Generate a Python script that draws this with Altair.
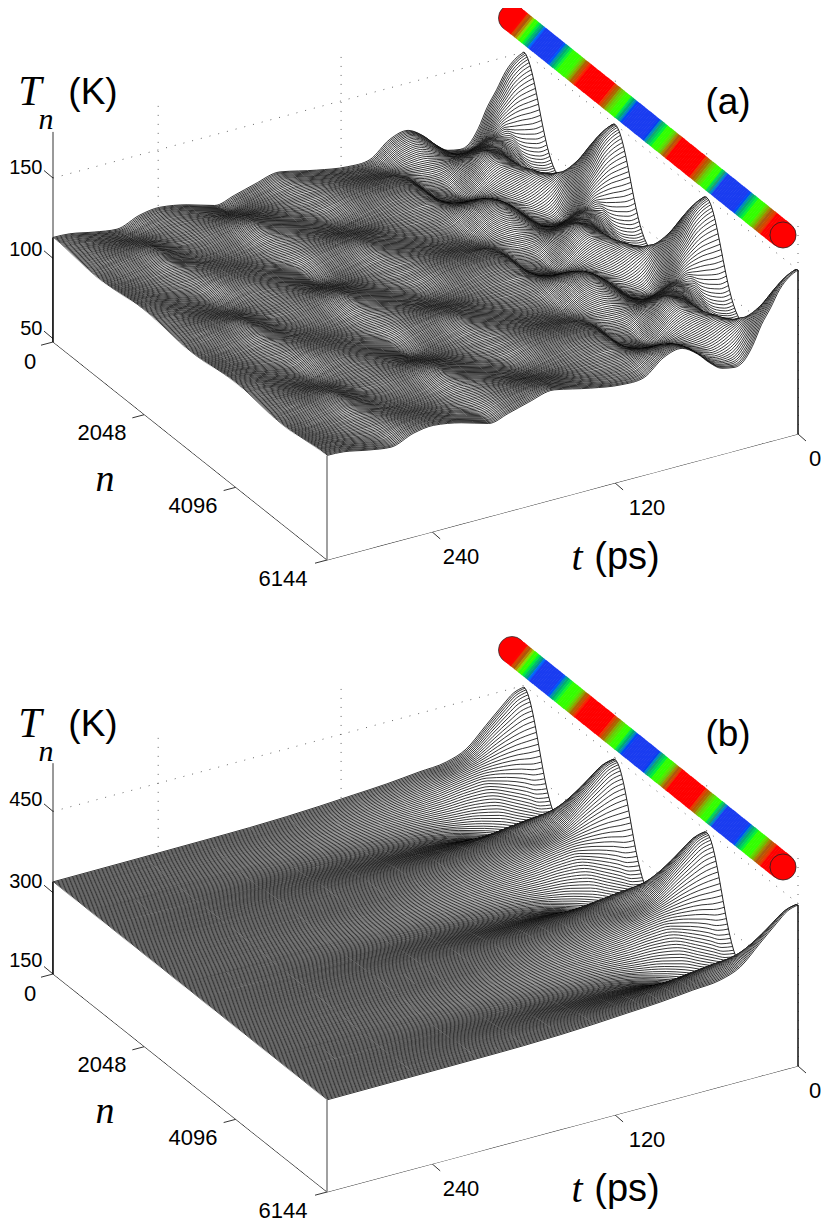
import altair as alt
import numpy as np
import pandas as pd

# time columns (ps) and temperature rows (K).
# the surface repeats every 2048 sites and mirrors about the mid point, so one half
# period (45 rows, n = 0 ... 1024) is written down and repeated over the 6144 sites
T_MAX = 309
TIMES_A = [0, 6, 12, 18, 24, 30, 36, 42, 50, 58, 66, 76, 88, 101, 116, 136, 160, 177, 190, 203, 221, 239, 252, 267, 282, 298, 309]
TEMP_A = [
    [150, 147, 141, 131, 122, 110, 102, 100, 101.5, 107, 114.5, 120.5, 118, 108.7, 108, 111, 116, 112.5, 109, 106, 111, 114, 112.5, 107.5, 109.5, 112.5, 113],
    [149.8, 146.8, 140.8, 131, 122, 110, 102.1, 100.1, 101.6, 107, 114.5, 120.5, 118, 108.7, 108, 111, 116, 112.5, 109, 106, 111, 114, 112.5, 107.5, 109.5, 112.5, 113],
    [149.4, 146.5, 140.6, 130.9, 122, 110.1, 102.2, 100.2, 101.6, 107, 114.4, 120.4, 117.9, 108.7, 108, 111, 116, 112.5, 109, 106.1, 111, 114, 112.5, 107.5, 109.5, 112.5, 113],
    [148.5, 145.7, 140, 130.6, 122, 110.3, 102.6, 100.5, 101.8, 107, 114.3, 120.3, 117.8, 108.8, 108.1, 111, 115.9, 112.5, 109, 106.2, 111, 114, 112.5, 107.6, 109.6, 112.5, 113],
    [147.5, 144.8, 139.4, 130.3, 121.9, 110.5, 102.9, 100.8, 101.9, 107, 114.2, 120.1, 117.7, 108.8, 108.1, 111, 115.8, 112.5, 109.1, 106.2, 111, 113.9, 112.5, 107.7, 109.6, 112.5, 112.9],
    [146, 143.5, 138.4, 129.9, 121.8, 110.9, 103.5, 101.3, 102.2, 107, 114, 119.9, 117.6, 108.9, 108.2, 111, 115.7, 112.5, 109.2, 106.4, 111, 113.9, 112.5, 107.8, 109.7, 112.5, 112.9],
    [144.5, 142.1, 137.4, 129.4, 121.7, 111.2, 104, 101.7, 102.4, 107, 113.8, 119.6, 117.4, 109, 108.3, 111, 115.6, 112.4, 109.2, 106.5, 111, 113.8, 112.4, 107.9, 109.7, 112.4, 112.9],
    [142.5, 140.4, 136.2, 128.9, 121.6, 111.6, 104.7, 102.3, 102.8, 107.1, 113.6, 119.3, 117.2, 109.1, 108.5, 111.1, 115.5, 112.4, 109.3, 106.7, 111.1, 113.7, 112.4, 108, 109.8, 112.4, 112.9],
    [140.5, 138.6, 135, 128.4, 121.4, 111.9, 105.4, 102.9, 103.1, 107.1, 113.4, 118.9, 117, 109.1, 108.6, 111.1, 115.3, 112.3, 109.4, 106.9, 111.1, 113.6, 112.3, 108.1, 109.8, 112.3, 112.8],
    [138.2, 136.5, 133.4, 127.6, 121.2, 112.4, 106.3, 103.6, 103.5, 107.2, 113.1, 118.5, 116.7, 109.3, 108.8, 111.1, 115.1, 112.3, 109.5, 107.1, 111.1, 113.5, 112.3, 108.3, 109.9, 112.3, 112.7],
    [135.7, 134.4, 131.8, 126.8, 121, 112.8, 107.1, 104.3, 103.9, 107.2, 112.8, 118, 116.4, 109.4, 108.9, 111.1, 114.9, 112.3, 109.6, 107.3, 111.1, 113.4, 112.3, 108.5, 110, 112.3, 112.6],
    [133, 131.9, 130, 125.9, 120.7, 113.3, 108, 105.2, 104.5, 107.3, 112.6, 117.5, 116.1, 109.6, 109.1, 111.2, 114.7, 112.3, 109.8, 107.6, 111.2, 113.3, 112.3, 108.7, 110.1, 112.3, 112.6],
    [130.3, 129.4, 128.1, 124.9, 120.4, 113.7, 108.9, 106, 105, 107.4, 112.3, 117, 115.8, 109.7, 109.2, 111.2, 114.5, 112.2, 109.9, 107.9, 111.2, 113.1, 112.2, 108.9, 110.2, 112.2, 112.5],
    [127.5, 126.8, 126, 123.7, 120, 114.1, 109.8, 106.9, 105.6, 107.5, 112, 116.5, 115.4, 109.9, 109.4, 111.2, 114.2, 112.1, 110.1, 108.2, 111.2, 113, 112.1, 109.1, 110.3, 112.1, 112.4],
    [124.7, 124.2, 123.9, 122.4, 119.6, 114.5, 110.7, 107.7, 106.1, 107.6, 111.7, 115.9, 115, 110, 109.6, 111.2, 113.9, 112, 110.2, 108.5, 111.2, 112.9, 112, 109.3, 110.4, 112, 112.3],
    [121.8, 121.3, 121.4, 120.7, 119.1, 114.9, 111.6, 108.6, 106.7, 107.8, 111.4, 115.3, 114.6, 110.2, 109.8, 111.3, 113.7, 112, 110.4, 108.9, 111.3, 112.7, 112, 109.6, 110.6, 112, 112.2],
    [118.9, 118.4, 118.9, 118.9, 118.5, 115.2, 112.4, 109.4, 107.3, 108, 111.1, 114.7, 114.2, 110.3, 110, 111.3, 113.4, 111.9, 110.5, 109.2, 111.3, 112.5, 111.9, 109.8, 110.7, 111.9, 112.1],
    [116.2, 115.6, 116.4, 117.1, 117.9, 115.4, 113.2, 110.3, 108, 108.3, 110.9, 114.1, 113.8, 110.5, 110.3, 111.4, 113.1, 111.9, 110.7, 109.6, 111.4, 112.4, 111.9, 110.1, 110.8, 111.9, 112],
    [113.4, 112.8, 113.9, 115.3, 117.3, 115.6, 113.9, 111.1, 108.7, 108.6, 110.7, 113.5, 113.3, 110.7, 110.5, 111.4, 112.8, 111.8, 110.8, 110, 111.4, 112.2, 111.8, 110.4, 110.9, 111.8, 111.9],
    [110.8, 110.2, 111.6, 113.6, 116.6, 115.7, 114.5, 111.9, 109.4, 108.9, 110.5, 112.9, 112.9, 110.9, 110.8, 111.4, 112.5, 111.7, 111, 110.4, 111.4, 112.1, 111.7, 110.7, 111.1, 111.7, 111.8],
    [108.2, 107.6, 109.2, 111.8, 115.8, 115.7, 115.1, 112.6, 110.1, 109.2, 110.3, 112.2, 112.4, 111.1, 111, 111.4, 112.1, 111.6, 111.1, 110.7, 111.4, 111.9, 111.6, 110.9, 111.2, 111.6, 111.7],
    [105.9, 105.3, 107.1, 110.2, 114.9, 115.6, 115.6, 113.3, 110.8, 109.6, 110.2, 111.6, 112, 111.3, 111.3, 111.5, 111.8, 111.6, 111.3, 111.1, 111.5, 111.7, 111.6, 111.2, 111.4, 111.6, 111.6],
    [103.5, 103, 105, 108.5, 114, 115.5, 116, 114, 111.5, 110, 110, 111, 111.5, 111.5, 111.5, 111.5, 111.5, 111.5, 111.5, 111.5, 111.5, 111.5, 111.5, 111.5, 111.5, 111.5, 111.5],
    [101.5, 101.1, 103.2, 107, 113.1, 115.3, 116.3, 114.6, 112.2, 110.5, 110, 110.4, 111.1, 111.7, 111.8, 111.6, 111.2, 111.5, 111.7, 111.9, 111.6, 111.3, 111.5, 111.8, 111.7, 111.5, 111.4],
    [99.5, 99.1, 101.3, 105.4, 112.1, 115, 116.5, 115.2, 112.9, 110.9, 109.9, 109.8, 110.6, 111.9, 112, 111.6, 110.9, 111.4, 111.9, 112.3, 111.6, 111.1, 111.4, 112.1, 111.8, 111.4, 111.3],
    [97.9, 97.5, 99.7, 104, 111, 114.6, 116.6, 115.7, 113.6, 111.4, 109.9, 109.3, 110.2, 112.1, 112.3, 111.6, 110.6, 111.3, 112.1, 112.7, 111.6, 111, 111.3, 112.4, 112, 111.3, 111.2],
    [96.2, 95.9, 98.1, 102.6, 109.9, 114.2, 116.7, 116.1, 114.3, 111.9, 109.8, 108.7, 109.7, 112.3, 112.5, 111.6, 110.2, 111.2, 112.2, 113, 111.6, 110.8, 111.2, 112.6, 112.1, 111.2, 111.1],
    [94.9, 94.7, 96.9, 101.4, 108.8, 113.7, 116.6, 116.5, 115, 112.5, 109.9, 108.2, 109.3, 112.5, 112.8, 111.7, 109.9, 111.2, 112.4, 113.4, 111.7, 110.7, 111.2, 112.9, 112.2, 111.2, 111],
    [93.6, 93.5, 95.6, 100.2, 107.7, 113.1, 116.5, 116.9, 115.7, 113, 109.9, 107.6, 108.8, 112.7, 113, 111.7, 109.6, 111.1, 112.5, 113.8, 111.7, 110.5, 111.1, 113.2, 112.3, 111.1, 110.9],
    [92.7, 92.7, 94.7, 99.2, 106.6, 112.5, 116.3, 117.2, 116.3, 113.6, 110, 107.2, 108.4, 112.9, 113.2, 111.8, 109.4, 111.1, 112.7, 114.2, 111.8, 110.4, 111.1, 113.5, 112.5, 111.1, 110.8],
    [91.7, 91.8, 93.7, 98.1, 105.5, 111.8, 116.1, 117.4, 116.9, 114.1, 110.1, 106.7, 108, 113, 113.4, 111.8, 109.1, 111, 112.9, 114.5, 111.8, 110.2, 111, 113.7, 112.6, 111, 110.7],
    [91, 91.2, 93, 97.2, 104.5, 111.1, 115.8, 117.6, 117.5, 114.7, 110.2, 106.3, 107.6, 113.2, 113.6, 111.8, 108.9, 111, 113, 114.8, 111.8, 110.1, 111, 113.9, 112.7, 111, 110.6],
    [90.4, 90.6, 92.2, 96.3, 103.4, 110.4, 115.4, 117.8, 118.1, 115.2, 110.3, 105.9, 107.2, 113.3, 113.8, 111.8, 108.6, 110.9, 113.1, 115.1, 111.8, 109.9, 110.9, 114.1, 112.8, 110.9, 110.5],
    [90, 90.3, 91.8, 95.6, 102.4, 109.7, 115, 117.9, 118.6, 115.7, 110.5, 105.6, 106.9, 113.5, 114, 111.9, 108.4, 110.8, 113.3, 115.4, 111.9, 109.8, 110.8, 114.3, 112.9, 110.8, 110.5],
    [89.6, 90, 91.3, 94.9, 101.3, 109, 114.6, 117.9, 119.1, 116.2, 110.6, 105.2, 106.6, 113.6, 114.1, 111.9, 108.1, 110.7, 113.4, 115.7, 111.9, 109.6, 110.7, 114.5, 113, 110.7, 110.4],
    [89.4, 89.9, 91, 94.4, 100.4, 108.4, 114.2, 118, 119.5, 116.7, 110.8, 104.9, 106.3, 113.8, 114.3, 111.9, 107.9, 110.7, 113.5, 115.9, 111.9, 109.5, 110.7, 114.7, 113.1, 110.7, 110.3],
    [89.2, 89.8, 90.6, 93.8, 99.5, 107.7, 113.8, 118, 119.9, 117.2, 110.9, 104.6, 106, 113.9, 114.4, 111.9, 107.7, 110.7, 113.6, 116.1, 111.9, 109.4, 110.7, 114.9, 113.2, 110.7, 110.2],
    [89.1, 89.8, 90.5, 93.4, 98.8, 107.2, 113.5, 118, 120.3, 117.6, 111, 104.4, 105.8, 114, 114.6, 112, 107.6, 110.7, 113.7, 116.3, 112, 109.3, 110.7, 115, 113.3, 110.7, 110.2],
    [89, 89.8, 90.3, 93, 98, 106.6, 113.1, 118.1, 120.6, 117.9, 111.1, 104.1, 105.6, 114.1, 114.7, 112, 107.4, 110.6, 113.8, 116.5, 112, 109.2, 110.6, 115.1, 113.3, 110.6, 110.1],
    [89, 89.9, 90.2, 92.7, 97.5, 106.2, 112.8, 118, 120.9, 118.2, 111.2, 104, 105.5, 114.2, 114.8, 112, 107.3, 110.6, 113.9, 116.7, 112, 109.2, 110.6, 115.2, 113.4, 110.6, 110.1],
    [89, 89.9, 90.1, 92.4, 96.9, 105.7, 112.5, 118, 121.1, 118.5, 111.3, 103.8, 105.3, 114.2, 114.9, 112, 107.2, 110.5, 113.9, 116.8, 112, 109.1, 110.5, 115.3, 113.4, 110.5, 110.1],
    [89, 90, 90, 92.3, 96.6, 105.5, 112.3, 118, 121.3, 118.7, 111.4, 103.7, 105.2, 114.3, 115, 112, 107.1, 110.5, 114, 116.9, 112, 109, 110.5, 115.4, 113.5, 110.5, 110],
    [89, 90, 90, 92.1, 96.2, 105.2, 112.1, 118, 121.4, 118.9, 111.5, 103.6, 105.1, 114.3, 115, 112, 107, 110.5, 114, 116.9, 112, 109, 110.5, 115.5, 113.5, 110.5, 110],
    [89, 90, 90, 92, 96.1, 105.1, 112, 118, 121.5, 119, 111.5, 103.5, 105, 114.3, 115, 112, 107, 110.5, 114, 117, 112, 109, 110.5, 115.5, 113.5, 110.5, 110],
    [89, 90, 90, 92, 96, 105, 112, 118, 121.5, 119, 111.5, 103.5, 105, 114.3, 115, 112, 107, 110.5, 114, 117, 112, 109, 110.5, 115.5, 113.5, 110.5, 110],
]

TIMES_B = [0, 7, 14, 25, 38, 51, 69, 90, 112, 134, 156, 180, 210, 250, 309]
TEMP_B = [
    [447, 441, 424, 395, 361, 347, 342, 336, 332, 328, 325, 323, 322, 321, 320],
    [446.5, 440.5, 423.6, 394.8, 361, 347, 342, 336, 332, 328, 325, 323, 322, 321, 320],
    [444.9, 439, 422.5, 394.2, 360.9, 347.1, 341.9, 335.9, 331.9, 328, 325, 323, 322, 321, 320],
    [442.3, 436.6, 420.7, 393.2, 360.8, 347.2, 341.8, 335.8, 331.8, 327.9, 325, 323, 322, 321, 320],
    [438.7, 433.3, 418.1, 391.8, 360.6, 347.2, 341.7, 335.6, 331.6, 327.8, 324.9, 323, 322, 321, 320],
    [434, 429, 414.9, 390.2, 360.4, 347.3, 341.5, 335.4, 331.4, 327.7, 324.9, 323, 322, 321, 320],
    [428.6, 424, 411, 388, 360.1, 347.4, 341.3, 335.1, 331.2, 327.5, 324.8, 323, 321.9, 320.9, 320],
    [422.2, 418.1, 406.5, 385.5, 359.7, 347.4, 341, 334.7, 330.9, 327.4, 324.7, 323, 321.9, 320.9, 320],
    [415.3, 411.6, 401.5, 382.7, 359.2, 347.4, 340.6, 334.3, 330.5, 327.2, 324.6, 322.9, 321.9, 320.8, 320],
    [407.6, 404.4, 396, 379.6, 358.5, 347.3, 340.2, 333.8, 330.1, 327, 324.5, 322.9, 321.9, 320.8, 320],
    [399.4, 396.7, 390, 376.1, 357.7, 347.2, 339.7, 333.3, 329.7, 326.7, 324.4, 322.9, 321.8, 320.8, 320],
    [390.7, 388.6, 383.7, 372.4, 356.7, 346.9, 339.1, 332.7, 329.2, 326.4, 324.3, 322.9, 321.8, 320.8, 320],
    [381.7, 380.1, 377, 368.3, 355.6, 346.5, 338.4, 332.1, 328.7, 326, 324.1, 322.8, 321.7, 320.7, 320],
    [372.4, 371.4, 370, 364.2, 354.3, 345.9, 337.6, 331.4, 328, 325.7, 323.9, 322.7, 321.7, 320.6, 320],
    [362.8, 362.5, 362.8, 359.6, 352.7, 345.1, 336.7, 330.6, 327.4, 325.3, 323.7, 322.6, 321.6, 320.5, 320],
    [353.3, 353.6, 355.5, 354.9, 350.9, 344.1, 335.7, 329.7, 326.8, 324.9, 323.4, 322.5, 321.5, 320.5, 320],
    [343.9, 344.6, 348.2, 350.1, 348.8, 343, 334.5, 328.8, 326.1, 324.4, 323.1, 322.3, 321.4, 320.4, 320],
    [334.7, 335.9, 340.9, 345.1, 346.4, 341.5, 333.2, 327.8, 325.3, 323.9, 322.8, 322.2, 321.3, 320.4, 320],
    [325.5, 327.1, 333.6, 340, 343.9, 340, 331.8, 326.8, 324.5, 323.4, 322.5, 322, 321.1, 320.3, 320],
    [316.9, 319, 326.5, 334.8, 341, 338, 330.2, 325.7, 323.7, 322.8, 322.2, 321.8, 321, 320.2, 320],
    [308.3, 310.8, 319.4, 329.6, 338, 336, 328.6, 324.5, 322.8, 322.2, 321.8, 321.5, 320.8, 320.1, 320],
    [300.7, 303.4, 312.7, 324.3, 334.5, 333.5, 326.8, 323.3, 321.9, 321.6, 321.4, 321.3, 320.7, 320.1, 320],
    [293, 296, 306, 319, 331, 331, 325, 322, 321, 321, 321, 321, 320.5, 320, 320],
    [286.5, 289.6, 299.9, 313.8, 327.1, 328, 323, 320.7, 320, 320.4, 320.6, 320.7, 320.3, 320, 320],
    [279.9, 283.2, 293.8, 308.5, 323.2, 325.1, 321, 319.4, 319.1, 319.7, 320.1, 320.4, 320.1, 319.9, 320],
    [274.5, 277.9, 288.4, 303.4, 318.9, 321.8, 318.8, 318, 318.2, 319, 319.6, 320.1, 319.9, 319.8, 320],
    [269.1, 272.5, 282.9, 298.3, 314.6, 318.5, 316.6, 316.6, 317.2, 318.3, 319.1, 319.7, 319.7, 319.7, 320],
    [265, 268.3, 278.2, 293.5, 310.1, 315, 314.3, 315.2, 316.2, 317.6, 318.7, 319.4, 319.5, 319.7, 320],
    [260.8, 264, 273.4, 288.6, 305.6, 311.4, 312, 313.8, 315.2, 316.9, 318.2, 319, 319.3, 319.6, 320],
    [257.8, 260.8, 269.5, 284.1, 301.1, 307.7, 309.8, 312.5, 314.3, 316.2, 317.7, 318.7, 319.1, 319.6, 320],
    [254.7, 257.6, 265.5, 279.6, 296.5, 304, 307.5, 311.1, 313.4, 315.5, 317.2, 318.3, 318.9, 319.5, 320],
    [252.7, 255.3, 262.3, 275.5, 292, 300.4, 305.3, 309.8, 312.5, 314.9, 316.7, 317.9, 318.7, 319.4, 320],
    [250.7, 253, 259.1, 271.4, 287.5, 296.7, 303, 308.5, 311.6, 314.2, 316.2, 317.5, 318.4, 319.3, 320],
    [249.5, 251.6, 256.6, 267.8, 283.3, 293.2, 301, 307.3, 310.8, 313.7, 315.8, 317.2, 318.2, 319.3, 320],
    [248.3, 250.1, 254, 264.2, 279.1, 289.7, 298.9, 306.1, 310, 313.1, 315.3, 316.8, 318, 319.2, 320],
    [247.7, 249.3, 252.1, 261.2, 275.4, 286.6, 297.1, 305.1, 309.3, 312.6, 314.9, 316.5, 317.9, 319.2, 320],
    [247.1, 248.4, 250.1, 258.2, 271.7, 283.5, 295.2, 304, 308.6, 312, 314.5, 316.2, 317.7, 319.2, 320],
    [246.9, 248, 248.7, 255.8, 268.6, 280.9, 293.7, 303.2, 308.1, 311.6, 314.2, 316, 317.6, 319.2, 320],
    [246.7, 247.5, 247.3, 253.3, 265.5, 278.2, 292.2, 302.3, 307.5, 311.2, 313.9, 315.7, 317.4, 319.1, 320],
    [246.8, 247.3, 246.4, 251.6, 263.2, 276.3, 291.1, 301.7, 307.1, 310.9, 313.7, 315.5, 317.3, 319.1, 320],
    [246.8, 247.1, 245.4, 249.8, 260.9, 274.3, 289.9, 301, 306.7, 310.5, 313.4, 315.3, 317.2, 319, 320],
    [246.9, 247, 244.9, 248.8, 259.5, 273.1, 289.2, 300.7, 306.5, 310.3, 313.3, 315.2, 317.1, 319, 320],
    [246.9, 247, 244.3, 247.7, 258, 271.8, 288.5, 300.3, 306.2, 310.1, 313.1, 315.1, 317, 319, 320],
    [247, 247, 244.2, 247.4, 257.5, 271.4, 288.3, 300.2, 306.1, 310.1, 313.1, 315.1, 317, 319, 320],
    [247, 247, 244, 247, 257, 271, 288, 300, 306, 310, 313, 315, 317, 319, 320],
]

# colours along the nanotube (fraction of its length)
TUBE_STOPS = [0, .02, .035, .05, .065, .078, .09, .16, .172, .19, .22, .232, .243, .257, .345, .36, .372, .39, .405, .418, .43, .51, .522, .54, .56, .572, .583, .597, .68, .695, .708, .725, .74, .752, .765, .845, .857, .875, .90, .912, .925, .945, 1]
TUBE_COLORS = ["#ff0000", "#ff0000", "#a85a10", "#33ff00", "#33ff00", "#20a070", "#1a3cf0", "#1a3cf0", "#20a070", "#33ff00", "#33ff00", "#6ac010", "#a85a10", "#ff0000", "#ff0000", "#a85a10", "#6ac010", "#33ff00", "#33ff00", "#20a070", "#1a3cf0", "#1a3cf0", "#20a070", "#33ff00", "#33ff00", "#6ac010", "#a85a10", "#ff0000", "#ff0000", "#a85a10", "#6ac010", "#33ff00", "#33ff00", "#20a070", "#1a3cf0", "#1a3cf0", "#20a070", "#33ff00", "#33ff00", "#6ac010", "#a85a10", "#ff0000", "#ff0000"]

W, H = 814, 1214
X_SCALE = alt.Scale(domain=[0, W], nice=False, zero=False)
Y_SCALE = alt.Scale(domain=[H, 0], nice=False, zero=False)
SERIF = "Liberation Serif"
SANS = "Liberation Sans"

X = alt.X("x:Q", scale=X_SCALE, axis=None)
Y = alt.Y("y:Q", scale=Y_SCALE, axis=None)


def project(n, t, temp, shift, k, base):
    # fixed 3d view, result is in page pixels less the 8px margin
    x = 53 + 274 * n / 6144 + 471 * (T_MAX - t) / T_MAX
    y = 342 + shift + 218 * n / 6144 - 126 * (T_MAX - t) / T_MAX - k * (temp - base)
    return x - 8, y - 8


def path_chart(points, **style):
    df = pd.DataFrame(points, columns=["x", "y"])
    df["i"] = range(len(df))
    return alt.Chart(df).mark_line(**style).encode(x=X, y=Y, order="i:Q")


def label(text, x, y, size, font=SANS, style="normal", align="center"):
    return alt.Chart(pd.DataFrame({"a": [0]})).mark_text(
        text=text, font=font, fontSize=size, fontStyle=style, align=align, baseline="middle", color="black"
    ).encode(x=alt.value(x - 8), y=alt.value(y - 8))


def panel(times, table, shift, k, base, z_top, z_ticks, name):
    p = lambda n, t, temp: project(n, t, temp, shift, k, base)
    layers = []

    # dotted grid on the two back walls
    dots = dict(color="#666666", strokeWidth=1, strokeDash=[1, 8])
    for z in z_ticks[1:]:
        layers.append(path_chart([p(0, T_MAX, z), p(0, 0, z), p(6144, 0, z)], **dots))
    for t in [240, 120]:
        layers.append(path_chart([p(0, t, base), p(0, t, z_top)], **dots))
    for n in [2048, 4096, 6144]:
        layers.append(path_chart([p(n, 0, base), p(n, 0, z_top)], **dots))

    # axes and ticks
    segs = [
        (p(0, T_MAX, base), p(0, T_MAX, z_top)),
        (p(0, T_MAX, base), p(6144, T_MAX, base)),
        (p(6144, T_MAX, base), p(6144, 0, base)),
    ]
    for z in z_ticks:
        a = p(0, T_MAX, z)
        segs.append((a, (a[0] - 9, a[1] - 7.5)))
    for n in [0, 2048, 4096, 6144]:
        a = p(n, T_MAX, base)
        segs.append((a, (a[0] - 12, a[1] + 3.2)))
    for t in [0, 120, 240]:
        a = p(6144, t, base)
        segs.append((a, (a[0] + 8, a[1] + 7)))
    seg_df = pd.DataFrame([(a[0], a[1], b[0], b[1]) for a, b in segs], columns=["x", "y", "x2", "y2"])
    layers.append(alt.Chart(seg_df).mark_rule(color="black", strokeWidth=0.8).encode(x=X, y=Y, x2="x2:Q", y2="y2:Q"))

    # waterfall, back row first so that every row hides what is behind it
    last_end = None
    for row in range(265):
        j = row % 88
        j = 88 - j if j > 44 else j
        n = row * 6144 / 264
        xy = [p(n, t, temp) for t, temp in zip(times, table[j])]
        bottom = [p(n, t, base)[1] for t in times]
        df = pd.DataFrame({"x": [a[0] for a in xy], "y": [a[1] for a in xy], "y0": bottom}).round(2)
        layers.append(alt.Chart(df).mark_area(color="white", interpolate="monotone").encode(x=X, y=Y, y2="y0:Q"))
        layers.append(alt.Chart(df).mark_line(color="black", strokeWidth=0.8, interpolate="monotone").encode(x=X, y=Y))
        # t = 0 edge of the sheet, piece by piece so the rows in front can hide it
        if row % 2 == 0:
            if last_end is not None:
                layers.append(path_chart([last_end, xy[0]], color="#222222", strokeWidth=1))
            last_end = xy[0]

    # front walls
    layers.append(path_chart([p(6144, 0, table[0][0]), p(6144, 0, base)], color="black", strokeWidth=1.4))
    layers.append(path_chart([p(6144, T_MAX, table[0][-1]), p(6144, T_MAX, base)], color="#808080", strokeWidth=1.5))
    layers.append(path_chart([p(0, T_MAX, table[0][-1]), p(0, T_MAX, base)], color="black", strokeWidth=1.5))

    # nanotube
    start = (512 - 8, 18 + shift - 8)
    end = (783 - 8, 235 + shift - 8)
    cap = lambda c: pd.DataFrame({"x": [c[0]], "y": [c[1]]})
    layers.append(alt.Chart(cap(start)).mark_point(filled=True, fill="#ff0000", stroke="#333333", strokeWidth=0.8, size=730, shape="circle", opacity=1).encode(x=X, y=Y))
    fr = np.linspace(0, 1, 150)
    step = 1.2 / 149
    tube = pd.DataFrame({
        "f": fr,
        "x": start[0] + (end[0] - start[0]) * fr,
        "y": start[1] + (end[1] - start[1]) * fr,
        "x2": start[0] + (end[0] - start[0]) * np.minimum(fr + step, 1),
        "y2": start[1] + (end[1] - start[1]) * np.minimum(fr + step, 1),
    })
    layers.append(alt.Chart(tube).mark_rule(strokeWidth=27, strokeCap="butt").encode(
        x=X, y=Y, x2="x2:Q", y2="y2:Q",
        color=alt.Color("f:Q", scale=alt.Scale(domain=TUBE_STOPS, range=TUBE_COLORS), legend=None),
    ))
    layers.append(alt.Chart(cap(end)).mark_point(filled=True, fill="#ff0000", stroke="#222222", strokeWidth=0.8, size=680, shape="circle", opacity=1).encode(x=X, y=Y))

    # texts
    layers.append(label("T", 30, 92 + shift, 42, SERIF, "italic"))
    layers.append(label("n", 46, 120 + shift, 30, SERIF, "italic"))
    layers.append(label("(K)", 93, 93 + shift, 37))
    for z, yy in zip(z_ticks, [329, 250, 168]):
        layers.append(label(str(z), 42.5, yy + shift, 20, align="right"))
    layers.append(label("0", 30, 362 + shift, 22))
    layers.append(label("2048", 102, 433 + shift, 22))
    layers.append(label("4096", 193, 506 + shift, 22))
    layers.append(label("6144", 283, 579 + shift, 22))
    layers.append(label("n", 105, 480 + shift, 38, SERIF, "italic"))
    layers.append(label("120", 647, 508 + shift, 22))
    layers.append(label("240", 461, 557 + shift, 22))
    layers.append(label("0", 815, 459 + shift, 22))
    layers.append(label("t", 577, 558 + shift, 40, SERIF, "italic"))
    layers.append(label("(ps)", 627, 558 + shift, 38))
    layers.append(label(name, 728, 103 + shift, 37))
    return layers


layers = panel(TIMES_A, TEMP_A, 0, 1.606, 47.9, 178.7, [50, 100, 150], "(a)")
layers += panel(TIMES_B, TEMP_B, 632, 0.542, 150, 539, [150, 300, 450], "(b)")

chart = alt.layer(*layers).properties(
    width=W, height=H, padding=0, autosize=alt.AutoSizeParams(type="none"),
).configure_view(stroke=None)

chart.save("out.html", embed_options={"renderer": "svg", "actions": False})
